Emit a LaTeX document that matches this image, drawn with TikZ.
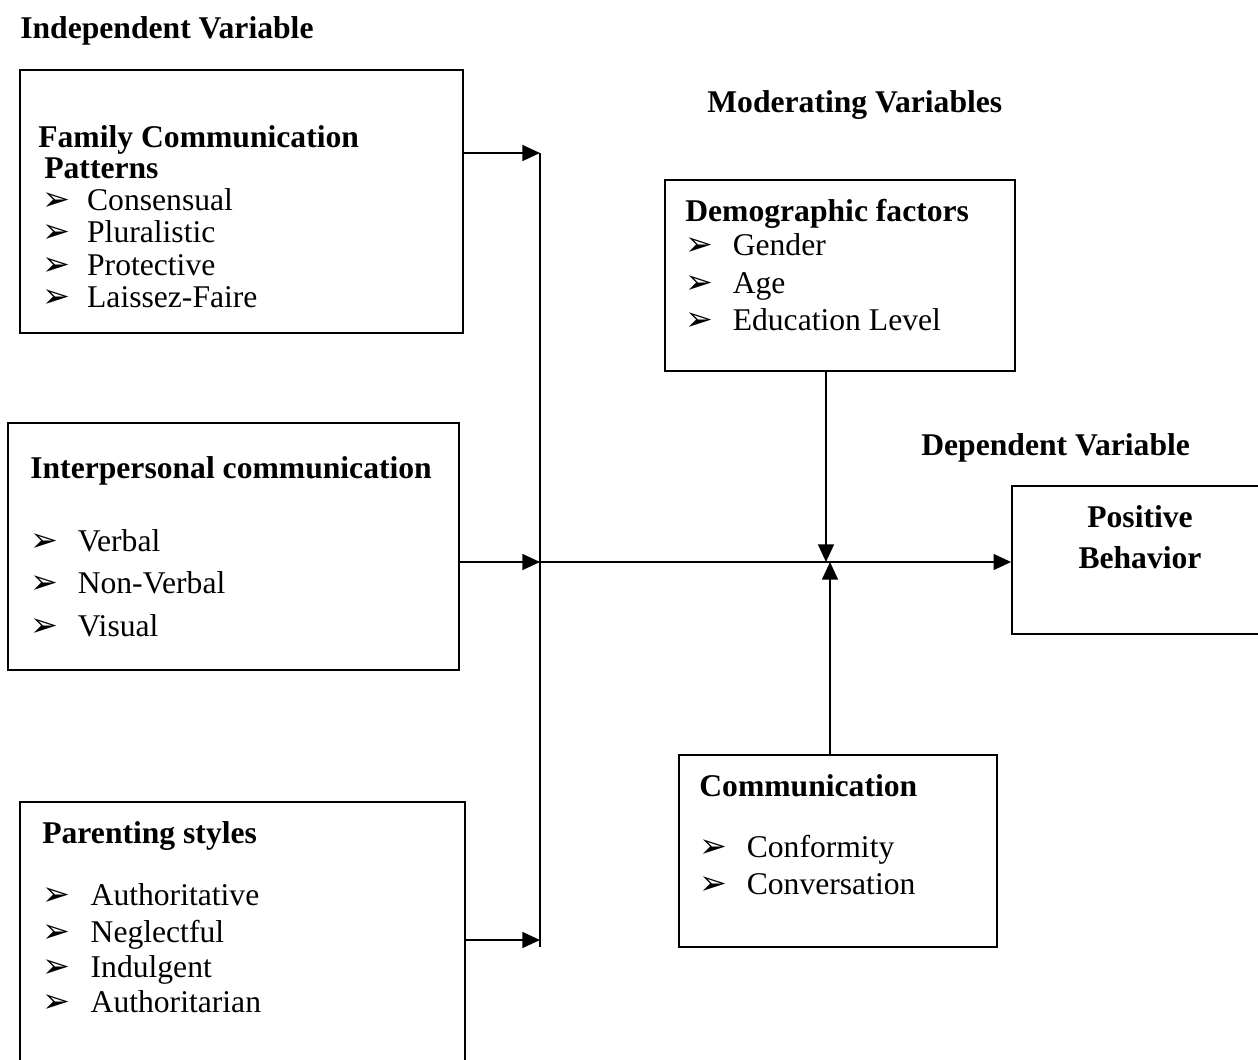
\documentclass[tikz,border=0pt]{standalone}
\usepackage{fontspec}
\setmainfont{Liberation Serif}
\newfontfamily\dejavu{DejaVu Sans}
\usetikzlibrary{arrows.meta,fit}
\newcommand{\bul}{{\dejavu\fontsize{19pt}{19pt}\selectfont ➢}}
\newcommand{\itm}[2]{\makebox[#1][l]{\bul}#2}
\begin{document}
\begin{tikzpicture}[x=0.02cm,y=-0.02cm,
  box/.style={draw=black, line width=1pt, inner sep=0pt, rectangle},
  txt/.style={inner sep=0pt, anchor=base west, font=\fontsize{18pt}{21pt}\selectfont},
  head/.style={txt, font=\fontsize{18pt}{21pt}\selectfont\bfseries},
  conn/.style={line width=1.1pt},
  arr/.style={conn, -{Triangle[length=10pt,width=9pt]}}]
\useasboundingbox (0,0) rectangle (1258,1059);
\fill[white] (0,0) rectangle (1258,1059);

% titles
\node[head] (tind) at (20,38) {Independent Variable};
\node[head] (tmod) at (707,112) {Moderating Variables};
\node[head] (tdep) at (921,455) {Dependent Variable};

% boxes
\node[box, fit={(20,70) (463,333)}] (fam) {};
\node[box, fit={(8,423) (459,670)}] (inter) {};
\node[box, fit={(20,802) (465,1062)}] (par) {};
\node[box, fit={(665,180) (1015,371)}] (demo) {};
\node[box, fit={(679,755) (997,947)}] (comm) {};
\node[box, fit={(1012,486) (1262,634)}] (pos) {};

% family box text
\node[head] (f0) at (38,147) {Family Communication};
\node[head] (f0b) at (44,178) {Patterns};
\node[txt] (f1) at (42,210) {\itm{25.5pt}{Consensual}};
\node[txt] (f2) at (42,242) {\itm{25.5pt}{Pluralistic}};
\node[txt] (f3) at (42,275) {\itm{25.5pt}{Protective}};
\node[txt] (f4) at (42,307) {\itm{25.5pt}{Laissez-Faire}};

% interpersonal
\node[head] (i0) at (30,478) {Interpersonal communication};
\node[txt] (i1) at (30,551) {\itm{27pt}{Verbal}};
\node[txt] (i2) at (30,593) {\itm{27pt}{Non-Verbal}};
\node[txt] (i3) at (30,636) {\itm{27pt}{Visual}};

% parenting
\node[head] (p0) at (42,843) {Parenting styles};
\node[txt] (p1) at (42,905) {\itm{27.5pt}{Authoritative}};
\node[txt] (p2) at (42,942) {\itm{27.5pt}{Neglectful}};
\node[txt] (p3) at (42,977) {\itm{27.5pt}{Indulgent}};
\node[txt] (p4) at (42,1012) {\itm{27.5pt}{Authoritarian}};

% demographic
\node[head] (d0) at (685,221) {Demographic factors};
\node[txt] (d1) at (685,255) {\itm{27pt}{Gender}};
\node[txt] (d2) at (685,293) {\itm{27pt}{Age}};
\node[txt] (d3) at (685,330) {\itm{27pt}{Education Level}};

% communication
\node[head] (c0) at (699,796) {Communication};
\node[txt] (c1) at (699,857) {\itm{27pt}{Conformity}};
\node[txt] (c2) at (699,894) {\itm{27pt}{Conversation}};

% positive
\node[head, anchor=base] (pb1) at (1140,527) {Positive};
\node[head, anchor=base] (pb2) at (1140,568) {Behavior};

% connectors
\coordinate (bt) at (540,153);
\coordinate (bm) at (540,562);
\coordinate (bb) at (540,940);
\coordinate (bend) at (540,947);
\coordinate (hubd) at (826,562);
\coordinate (hubu) at (830,562);
\draw[conn] (bt) -- (bend);
\draw[arr] (fam.east |- bt) -- (bt);
\draw[arr] (inter.east |- bm) -- (bm);
\draw[arr] (par.east |- bb) -- (bb);
\draw[arr] (bm) -- (pos.west |- bm);
\draw[arr] (demo.south -| hubd) -- (hubd);
\draw[arr] (comm.north -| hubu) -- (hubu);
\end{tikzpicture}
\end{document}
